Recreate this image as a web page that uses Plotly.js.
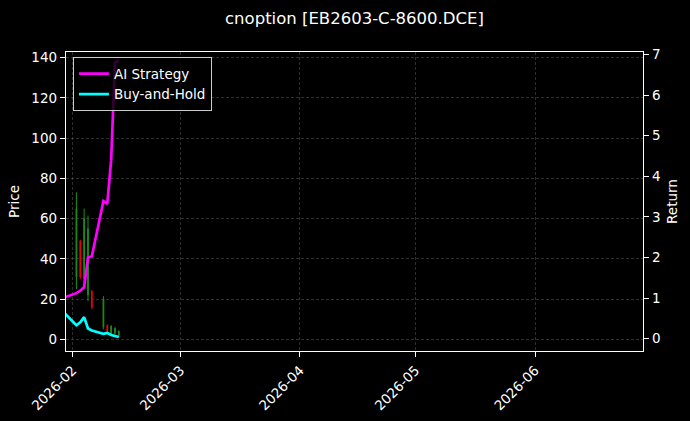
<!DOCTYPE html>
<html>
<head>
<meta charset="utf-8">
<script src="https://cdn.plot.ly/plotly-3.0.1.min.js"></script>
<style>
  body { margin: 0; background: #000; }
  #plot { width: 690px; height: 421px; }
</style>
</head>
<body>
<div id="plot"></div>
<script>
// daily bars
var days = ['2026-02-02', '2026-02-03', '2026-02-04', '2026-02-05', '2026-02-06',
            '2026-02-09', '2026-02-10', '2026-02-11', '2026-02-12', '2026-02-13'];
var open  = [31, 49, 30, 22, 24, 6, 7, 3, 3, 2];
var high  = [73, 49.5, 65, 61.5, 24.5, 21.5, 7.3, 7, 6, 4.5];
var low   = [25, 30, 25, 19, 15, 5, 3.5, 2, 2, 1];
var close = [65, 31, 60, 55, 16, 20, 4, 6.5, 5.5, 4];

// return curves (right axis)
var lineDays = ['2026-01-30'].concat(days);
var aiReturn = [1.02, 1.12, 1.18, 1.27, 2.0, 2.03, 3.39, 3.32, 4.39, 6.8, 6.85];
var bhReturn = [0.62, 0.33, 0.40, 0.53, 0.25, 0.20, 0.12, 0.14, 0.09, 0.06, 0.04];

var font = 'DejaVu Sans';
var grid = 'rgba(140,140,140,0.55)';

var data = [
    {
        type: 'candlestick', x: days, open: open, high: high, low: low, close: close,
        xaxis: 'x', yaxis: 'y', showlegend: false, whiskerwidth: 0,
        increasing: {line: {color: '#1a8f1a', width: 1}, fillcolor: '#1a8f1a'},
        decreasing: {line: {color: '#ee0000', width: 1}, fillcolor: '#ee0000'},
        hoverinfo: 'skip'
    },
    {x: lineDays, y: aiReturn, type: 'scatter', mode: 'lines', name: 'AI Strategy',
     yaxis: 'y2', line: {color: '#ff00ff', width: 2.7}},
    {x: lineDays, y: bhReturn, type: 'scatter', mode: 'lines', name: 'Buy-and-Hold',
     yaxis: 'y2', line: {color: '#00ffff', width: 2.7}}
];

var layout = {
    width: 690, height: 421,
    paper_bgcolor: '#000', plot_bgcolor: '#000',
    font: {family: font, color: '#fff', size: 13.5},
    margin: {l: 66, r: 47, t: 52, b: 70},
    boxgap: 0.72,
    title: {text: 'cnoption [EB2603-C-8600.DCE]', font: {size: 16.5, color: '#fff'},
            x: 0.5, xref: 'paper', y: 0.957, yanchor: 'middle'},
    showlegend: true,
    legend: {x: 0.012, y: 0.982, xanchor: 'left', yanchor: 'top',
             bgcolor: 'rgba(0,0,0,0.8)', bordercolor: '#cccccc', borderwidth: 1,
             font: {size: 13.5, color: '#fff'}, tracegroupgap: 2},
    xaxis: {
        type: 'date', range: ['2026-01-30 07:00', '2026-06-29'],
        tick0: '2026-02-01', dtick: 'M1', tickformat: '%Y-%m', tickangle: -45,
        ticks: 'outside', ticklen: 5, tickcolor: '#fff', tickwidth: 1,
        showline: true, linecolor: '#fff', linewidth: 1.2, mirror: true,
        showgrid: true, gridcolor: grid, griddash: '3px,2px', gridwidth: 0.6,
        zeroline: false, rangeslider: {visible: false}, fixedrange: true
    },
    yaxis: {
        range: [-5.8, 142.8], dtick: 20, tick0: 0,
        ticks: 'outside', ticklen: 5, tickcolor: '#fff', tickwidth: 1,
        showline: true, linecolor: '#fff', linewidth: 1.2,
        showgrid: true, gridcolor: grid, griddash: '3px,2px', gridwidth: 0.6,
        zeroline: false,
        title: {text: 'Price', standoff: 8, font: {size: 13.5}}
    },
    yaxis2: {
        overlaying: 'y', side: 'right',
        range: [-0.305, 7.06], dtick: 1, tick0: 0,
        ticks: 'outside', ticklen: 5, tickcolor: '#fff', tickwidth: 1,
        showline: true, linecolor: '#fff', linewidth: 1.2,
        showgrid: false, zeroline: false,
        title: {text: 'Return', standoff: 8, font: {size: 13.5}}
    }
};

Plotly.newPlot('plot', data, layout, {staticPlot: true});
</script>
</body>
</html>
